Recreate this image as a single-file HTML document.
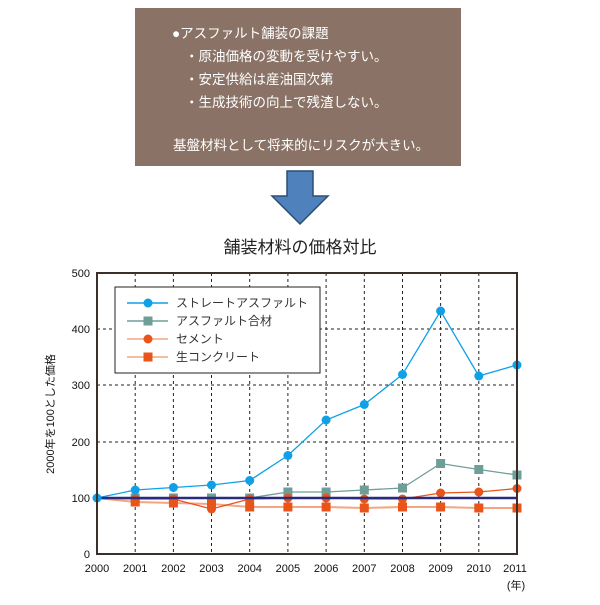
<!DOCTYPE html>
<html><head><meta charset="utf-8"><style>
body{margin:0;background:#fff;}
svg text{font-family:"Liberation Sans","Noto Sans CJK JP",sans-serif;}
</style></head><body>
<svg width="600" height="600" xmlns="http://www.w3.org/2000/svg">
<rect x="135" y="8" width="326" height="158" fill="#8a7366"/>
<g fill="#fff" font-size="13.5">
<text x="172" y="38">●アスファルト舗装の課題</text>
<text x="185" y="61">・原油価格の変動を受けやすい。</text>
<text x="185" y="84">・安定供給は産油国次第</text>
<text x="185" y="107">・生成技術の向上で残渣しない。</text>
<text x="173" y="150">基盤材料として将来的にリスクが大きい。</text>
</g>
<path d="M287,171 H313 V196 H328 L300,224 L272,196 H287 Z" fill="#4f81bd" stroke="#2c4d75" stroke-width="1.5"/>
<text x="300" y="253" font-size="17" text-anchor="middle" fill="#222">舗装材料の価格対比</text>
<!-- grid -->
<g stroke="#222" stroke-width="1" stroke-dasharray="3,3">
<line x1="97" y1="329" x2="517" y2="329"/><line x1="97" y1="385" x2="517" y2="385"/>
<line x1="97" y1="442" x2="517" y2="442"/><line x1="97" y1="498" x2="517" y2="498"/>
<line x1="135.2" y1="273" x2="135.2" y2="554"/><line x1="173.4" y1="273" x2="173.4" y2="554"/>
<line x1="211.5" y1="273" x2="211.5" y2="554"/><line x1="249.7" y1="273" x2="249.7" y2="554"/>
<line x1="287.9" y1="273" x2="287.9" y2="554"/><line x1="326.1" y1="273" x2="326.1" y2="554"/>
<line x1="364.3" y1="273" x2="364.3" y2="554"/><line x1="402.5" y1="273" x2="402.5" y2="554"/>
<line x1="440.6" y1="273" x2="440.6" y2="554"/><line x1="478.8" y1="273" x2="478.8" y2="554"/>
</g>
<!-- series -->
<g fill="none" stroke-width="1.3">
<polyline stroke="#f4a582" stroke-width="2" points="97,498 135.2,502 173.4,503 211.5,504 249.7,507 287.9,507 326.1,507 364.3,508 402.5,507 440.6,507 478.8,508 517,508"/>
<polyline stroke="#e8541a" points="97,498 135.2,499 173.4,499 211.5,509 249.7,499 287.9,498 326.1,498 364.3,499 402.5,499 440.6,493 478.8,492 517,488.5"/>
<polyline stroke="#6f9e98" points="97,498 135.2,498 173.4,498 211.5,498 249.7,498 287.9,492 326.1,492 364.3,490 402.5,488 440.6,463.5 478.8,469.5 517,475"/>
<polyline stroke="#10a0e8" points="97,498 135.2,490 173.4,487.5 211.5,485 249.7,480.5 287.9,455.5 326.1,420 364.3,404.5 402.5,374.5 440.6,311 478.8,376 517,365"/>
</g>
<g fill="#6f9e98">
<rect x="130.7" y="493.5" width="9" height="9"/><rect x="168.9" y="493.5" width="9" height="9"/><rect x="207" y="493.5" width="9" height="9"/><rect x="245.2" y="493.5" width="9" height="9"/><rect x="283.4" y="487.5" width="9" height="9"/><rect x="321.6" y="487.5" width="9" height="9"/><rect x="359.8" y="485.5" width="9" height="9"/><rect x="398" y="483.5" width="9" height="9"/><rect x="436.1" y="459" width="9" height="9"/><rect x="474.3" y="465" width="9" height="9"/><rect x="512.5" y="470.5" width="9" height="9"/>
</g>
<g fill="#e8541a">
<rect x="130.7" y="497.5" width="9" height="9"/><rect x="168.9" y="498.5" width="9" height="9"/><rect x="207" y="499.5" width="9" height="9"/><rect x="245.2" y="502.5" width="9" height="9"/><rect x="283.4" y="502.5" width="9" height="9"/><rect x="321.6" y="502.5" width="9" height="9"/><rect x="359.8" y="503.5" width="9" height="9"/><rect x="398" y="502.5" width="9" height="9"/><rect x="436.1" y="502.5" width="9" height="9"/><rect x="474.3" y="503.5" width="9" height="9"/><rect x="512.5" y="503.5" width="9" height="9"/>
<circle cx="135.2" cy="499" r="4.5"/><circle cx="173.4" cy="499" r="4.5"/><circle cx="211.5" cy="509" r="4.5"/><circle cx="249.7" cy="499" r="4.5"/><circle cx="287.9" cy="498" r="4.5"/><circle cx="326.1" cy="498" r="4.5"/><circle cx="364.3" cy="499" r="4.5"/><circle cx="402.5" cy="499" r="4.5"/><circle cx="440.6" cy="493" r="4.5"/><circle cx="478.8" cy="492" r="4.5"/><circle cx="517" cy="488.5" r="4.5"/>
</g>
<line x1="97" y1="498" x2="517" y2="498" stroke="#2a2a80" stroke-width="2.5"/>
<g fill="#10a0e8">
<circle cx="97" cy="498" r="4.5"/><circle cx="135.2" cy="490" r="4.5"/><circle cx="173.4" cy="487.5" r="4.5"/><circle cx="211.5" cy="485" r="4.5"/><circle cx="249.7" cy="480.5" r="4.5"/><circle cx="287.9" cy="455.5" r="4.5"/><circle cx="326.1" cy="420" r="4.5"/><circle cx="364.3" cy="404.5" r="4.5"/><circle cx="402.5" cy="374.5" r="4.5"/><circle cx="440.6" cy="311" r="4.5"/><circle cx="478.8" cy="376" r="4.5"/><circle cx="517" cy="365" r="4.5"/>
</g>
<rect x="97" y="273" width="420" height="281" fill="none" stroke="#3a302b" stroke-width="2"/>
<!-- legend -->
<rect x="115" y="287" width="205" height="86" fill="#fff" stroke="#222" stroke-width="1"/>
<g stroke-width="1.5">
<line x1="127" y1="303" x2="168" y2="303" stroke="#10a0e8"/><line x1="127" y1="321" x2="168" y2="321" stroke="#6f9e98"/>
<line x1="127" y1="339" x2="168" y2="339" stroke="#f4a582"/><line x1="127" y1="357" x2="168" y2="357" stroke="#f4a582"/>
</g>
<circle cx="148" cy="303" r="4.5" fill="#10a0e8"/><rect x="143.5" y="316.5" width="9" height="9" fill="#6f9e98"/>
<circle cx="148" cy="339" r="4.5" fill="#e8541a"/><rect x="143.5" y="352.5" width="9" height="9" fill="#e8541a"/>
<g font-size="12" fill="#333">
<text x="176" y="307">ストレートアスファルト</text><text x="176" y="325">アスファルト合材</text>
<text x="176" y="343">セメント</text><text x="176" y="361">生コンクリート</text>
</g>
<!-- axes labels -->
<g font-size="11" fill="#111" text-anchor="end">
<text x="90" y="277">500</text><text x="90" y="333">400</text><text x="90" y="389">300</text>
<text x="90" y="446">200</text><text x="90" y="502">100</text><text x="90" y="558">0</text>
</g>
<g font-size="11" fill="#111" text-anchor="middle">
<text x="97" y="572">2000</text><text x="135.2" y="572">2001</text><text x="173.4" y="572">2002</text><text x="211.5" y="572">2003</text><text x="249.7" y="572">2004</text><text x="287.9" y="572">2005</text><text x="326.1" y="572">2006</text><text x="364.3" y="572">2007</text><text x="402.5" y="572">2008</text><text x="440.6" y="572">2009</text><text x="478.8" y="572">2010</text><text x="515" y="572">2011</text>
<text x="516" y="589">(年)</text>
</g>
<text transform="translate(54,414) rotate(-90)" font-size="11" fill="#111" text-anchor="middle">2000年を100とした価格</text>
</svg>
</body></html>
